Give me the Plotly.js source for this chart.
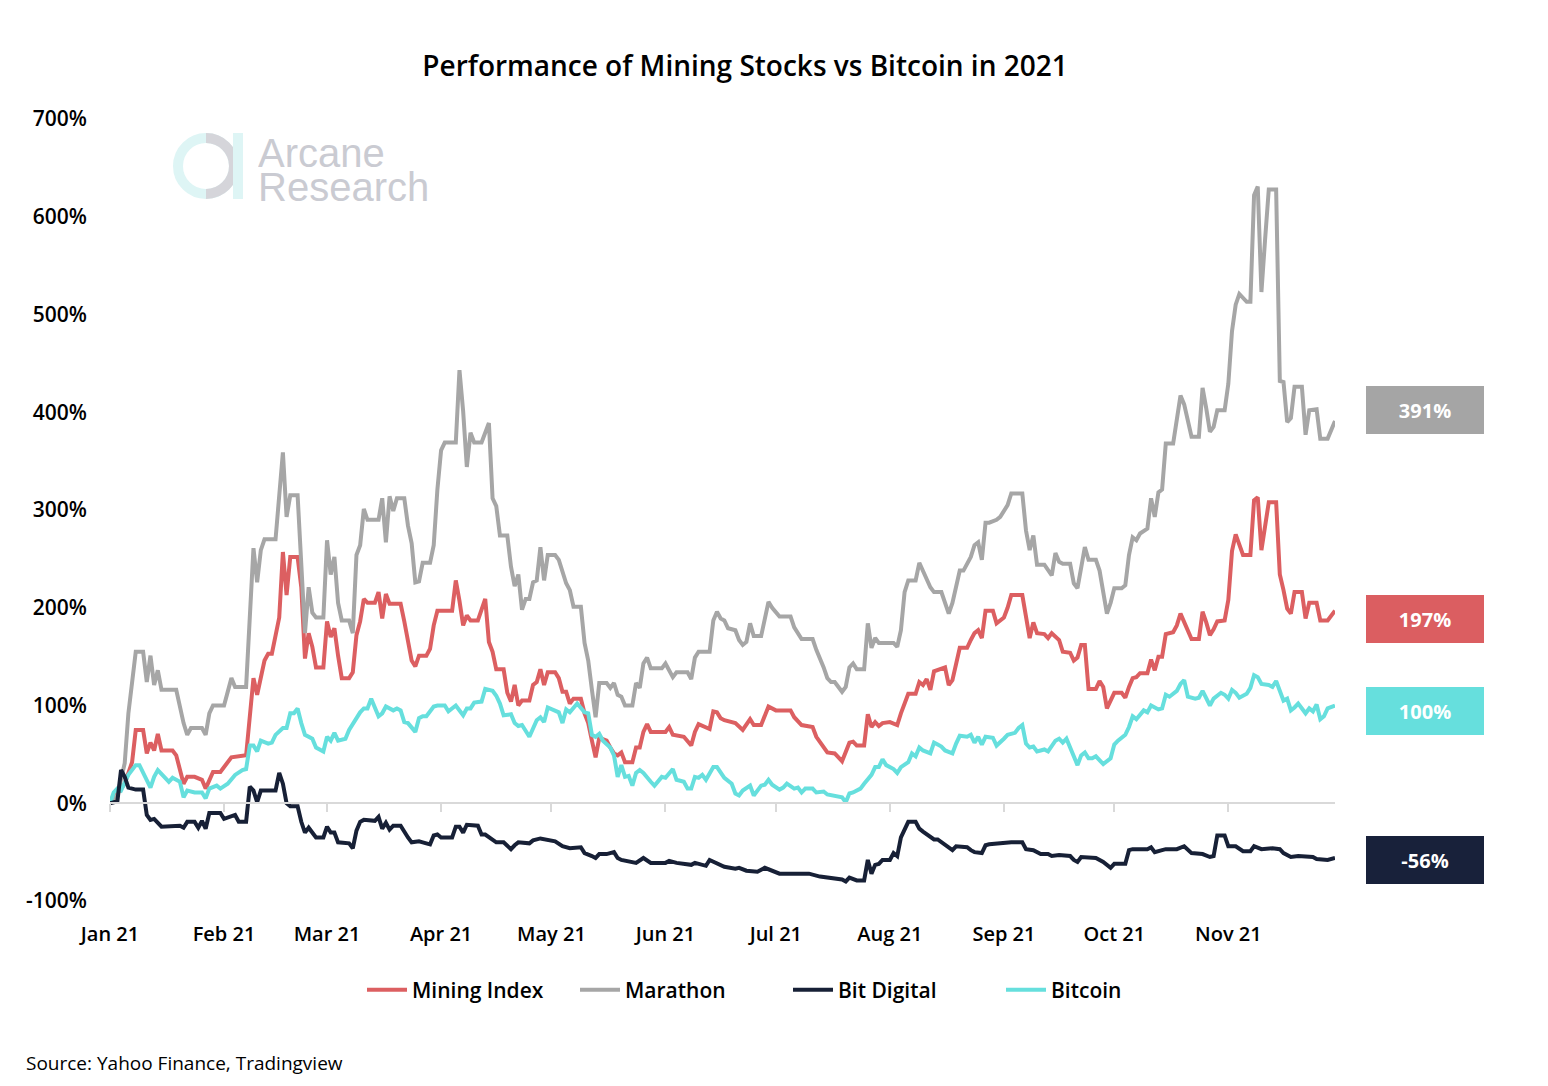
<!DOCTYPE html>
<html>
<head>
<meta charset="utf-8">
<script src="https://cdn.plot.ly/plotly-3.0.1.min.js"></script>
<style>
  html, body { margin: 0; padding: 0; background: #ffffff; }
  #chart { width: 1548px; height: 1086px; }
</style>
</head>
<body>
<div id="chart"></div>
<script>
// ---- DATA (day offsets from 2021-01-01, values in %) ----
const miningDays = [0,4,6,7,9,10,11,12,13,14,17,18,20,21,23,25,26,28,30,32,33,37,38,39,40,42,43,44,46,47,48,49,51,52,53,54,55,56,58,59,60,61,62,63,65,66,67,68,69,70,72,73,74,75,76,79,80,81,82,83,84,86,87,88,89,93,94,95,96,97,98,100,102,103,104,105,107,108,109,110,111,112,114,115,116,117,118,119,121,122,123,124,125,126,128,129,130,131,132,133,135,136,137,138,139,140,142,143,144,145,146,147,151,152,153,156,158,159,160,163,164,165,166,167,169,170,172,173,174,175,177,179,181,185,186,188,191,192,194,195,197,198,199,201,202,203,205,206,207,208,209,210,212,214,215,217,219,220,221,222,223,224,226,227,228,229,231,233,234,235,236,237,238,240,241,243,244,245,248,249,250,251,252,254,255,256,258,259,261,262,263,264,265,266,268,269,270,271,272,273,275,276,277,278,279,280,282,283,284,285,286,287,289,290,291,292,293,294,296,297,298,299,300,301,303,304,305,306,308,310,311,312,313,314,315,317,318,319,320,321,322,324,325,326,328,329,331,333];
const miningVals = [0,20,42,75,75,51,62,54,71,54,54,49,20,27,27,24,15,32,32,41,47,49,92,128,111,146,153,153,190,257,213,252,252,221,148,174,160,139,139,186,170,179,151,128,128,134,172,186,209,205,205,216,189,214,204,204,186,165,146,140,151,151,158,182,197,197,228,207,182,192,187,187,209,165,155,137,137,113,104,121,100,105,105,121,124,137,121,134,134,128,114,114,102,107,107,92,82,64,47,67,64,57,51,49,52,42,42,57,57,73,81,73,73,78,70,68,59,73,81,76,94,93,87,85,83,82,75,80,86,80,80,99,95,95,88,80,78,68,57,52,51,47,43,62,63,59,59,91,78,83,79,82,83,80,92,112,112,124,121,127,116,135,137,139,121,126,159,159,167,174,177,169,197,197,184,190,200,213,213,190,169,185,174,173,169,174,167,155,154,146,149,162,162,117,117,125,119,97,106,113,113,108,119,128,129,133,133,147,136,150,150,173,175,182,194,185,175,168,168,196,185,172,178,186,187,208,258,275,254,254,310,313,259,286,308,308,234,218,199,194,216,216,189,205,205,187,187,197];

const marathonDays = [0,2,4,5,7,9,10,11,12,13,14,18,20,21,22,25,26,27,28,31,33,34,37,39,40,41,42,45,47,48,49,51,53,54,55,56,58,59,60,61,62,63,65,66,67,68,69,70,73,74,75,76,77,78,80,81,82,83,84,85,87,88,89,90,91,94,95,96,97,98,99,101,103,104,105,106,108,109,110,111,112,113,114,115,116,117,118,119,121,122,124,125,126,128,129,130,131,132,133,135,136,137,138,139,140,142,143,144,145,146,147,150,151,153,154,157,158,159,160,163,164,165,166,167,168,170,171,172,173,174,175,177,179,180,182,185,186,188,191,192,194,195,196,197,199,200,201,202,203,205,206,207,208,209,213,214,215,216,217,219,220,221,223,224,226,228,229,231,232,234,235,236,237,238,239,241,242,244,245,248,249,250,251,252,254,256,257,258,259,261,262,263,264,265,266,268,269,270,271,272,273,275,276,277,278,279,280,282,283,284,285,286,287,289,290,291,292,293,294,296,297,298,299,300,301,303,304,305,306,307,309,310,311,312,313,314,315,317,318,319,320,321,322,324,325,326,328,329,331,333];
const marathonVals = [0,8,41,92,155,155,124,151,121,136,116,116,82,70,77,77,70,92,100,100,128,119,119,261,226,259,270,270,359,293,315,315,174,221,195,190,190,269,234,252,205,187,187,174,254,264,301,290,290,312,267,314,299,312,312,284,266,226,227,246,246,264,321,361,369,369,443,401,344,379,369,369,389,312,304,274,274,242,222,234,198,209,209,226,228,262,228,254,254,249,225,218,201,201,164,146,116,88,123,123,118,123,111,109,100,100,123,118,143,149,138,138,143,129,134,134,127,149,155,155,187,196,189,187,179,177,167,162,165,184,171,171,206,200,191,191,180,168,168,157,139,128,124,124,114,119,139,143,137,137,184,159,169,164,164,160,177,216,228,228,246,238,221,216,216,194,205,238,238,252,264,267,249,287,287,290,293,305,317,317,279,259,274,244,244,233,256,247,245,245,225,220,242,262,249,249,238,213,194,205,220,220,223,254,272,269,276,281,312,293,318,321,368,368,392,417,408,389,375,375,425,404,380,385,402,402,429,483,510,521,513,513,622,631,523,577,628,628,432,431,390,394,426,426,377,402,403,373,373,391];

const bitDigitalDays = [0,2,3,4,5,7,9,10,11,12,14,18,19,20,21,23,24,25,26,27,30,31,33,34,35,37,38,39,40,41,45,46,47,48,49,51,52,53,54,55,56,58,59,60,61,62,65,66,67,68,69,72,73,74,75,76,77,79,80,81,82,84,85,87,88,89,90,93,94,95,96,97,100,101,102,104,105,107,108,109,110,111,114,115,117,121,123,125,128,129,131,132,133,135,137,138,139,141,143,145,147,151,152,154,158,159,162,163,165,167,170,171,173,176,178,180,182,186,190,193,196,199,200,201,203,205,206,207,208,209,210,212,213,214,215,217,219,220,221,223,224,225,227,228,229,230,233,234,235,237,238,239,241,243,245,248,249,251,253,255,256,258,261,262,263,264,267,268,270,272,273,276,277,278,280,282,283,284,286,287,290,292,294,296,297,299,300,301,303,304,306,308,310,311,313,316,318,319,321,323,325,327,328,330,331,333];
const bitDigitalVals = [0,2,34,27,16,14,14,-12,-17,-16,-24,-24,-23,-25,-19,-19,-25,-18,-26,-10,-10,-16,-14,-12,-19,-19,17,13,1,13,13,31,20,0,-3,-3,-19,-30,-25,-30,-35,-35,-24,-30,-30,-40,-41,-46,-28,-19,-17,-18,-14,-26,-20,-27,-23,-23,-30,-35,-40,-39,-40,-42,-33,-32,-35,-35,-24,-24,-30,-22,-23,-32,-32,-37,-40,-40,-44,-47,-43,-40,-41,-38,-36,-39,-44,-46,-45,-51,-54,-56,-52,-52,-50,-56,-58,-60,-61,-56,-61,-61,-59,-61,-63,-61,-64,-58,-61,-65,-67,-66,-69,-70,-66,-69,-72,-72,-72,-75,-77,-78,-80,-76,-79,-79,-58,-72,-63,-62,-58,-58,-51,-54,-35,-19,-19,-26,-29,-34,-37,-37,-42,-45,-48,-44,-45,-48,-50,-51,-43,-42,-41,-41,-40,-40,-47,-48,-52,-52,-54,-53,-54,-58,-60,-55,-55,-56,-60,-66,-62,-62,-48,-47,-47,-47,-45,-50,-48,-47,-47,-44,-51,-52,-52,-55,-54,-33,-33,-44,-44,-49,-49,-44,-47,-46,-47,-51,-55,-54,-55,-55,-57,-58,-58,-56];

const bitcoinDays = [0,1,2,3,5,7,8,9,11,12,13,15,16,17,19,20,21,23,25,26,27,29,30,32,34,36,37,38,39,40,41,43,44,45,47,48,49,50,51,52,53,55,56,58,59,60,61,62,64,65,67,68,69,70,71,72,73,74,75,77,78,79,80,81,82,83,84,85,86,88,89,91,92,94,96,97,98,99,101,102,104,105,106,107,109,110,111,112,114,116,117,118,119,121,122,123,124,125,127,129,130,131,132,133,134,136,137,138,139,140,141,142,143,144,145,147,148,150,151,153,154,156,157,158,159,160,161,162,164,165,166,167,169,170,171,172,174,175,177,178,179,180,182,183,184,186,187,188,189,191,192,194,195,197,199,200,201,202,204,205,207,208,209,210,211,213,214,215,217,218,219,220,221,223,224,225,226,227,229,230,231,233,234,235,236,237,238,240,241,243,244,246,247,248,249,250,251,252,254,255,257,258,259,260,261,262,263,264,265,266,267,268,269,270,272,273,274,276,277,278,279,280,281,282,283,285,286,287,288,290,291,292,293,295,296,297,298,299,300,302,303,304,305,306,307,309,310,311,312,313,315,316,317,318,319,320,321,322,323,325,326,327,328,329,330,331,333];
const bitcoinVals = [0,11,15,13,29,39,39,31,16,27,34,26,22,26,22,6,13,11,11,5,15,18,15,20,29,34,35,59,59,53,64,61,62,70,77,77,92,92,97,82,70,66,57,53,68,64,72,64,66,75,87,93,97,97,107,99,89,92,99,95,97,95,83,82,77,73,87,89,89,99,100,100,94,100,90,97,97,103,104,117,115,110,102,90,91,82,79,80,68,85,88,83,98,95,93,82,96,93,102,93,92,70,68,71,64,57,49,27,39,27,28,18,31,34,31,22,18,27,26,35,24,22,15,15,27,26,29,24,37,37,32,26,20,10,8,13,18,8,18,19,24,19,14,16,20,15,16,11,15,15,11,12,9,7,6,1,10,11,15,20,29,37,37,45,39,35,31,37,42,51,48,57,54,51,62,60,58,54,51,61,69,68,70,62,68,60,68,67,59,66,70,72,77,80,61,57,58,53,55,53,64,66,62,66,57,46,39,49,52,46,46,48,44,40,46,60,64,70,78,89,86,90,95,93,100,96,97,111,109,115,122,126,109,107,108,115,107,100,107,113,111,107,116,113,108,112,118,131,129,122,121,119,125,116,105,107,95,98,102,92,97,94,101,86,89,97,100];

const seriesNames = ["Mining Index", "Marathon", "Bit Digital", "Bitcoin"];
const monthTicks = ["2021-01-01","2021-02-01","2021-03-01","2021-04-01","2021-05-01","2021-06-01","2021-07-01","2021-08-01","2021-09-01","2021-10-01","2021-11-01"];
const yTickVals = [-100,0,100,200,300,400,500,600,700];
const yTickText = ["-100%","0%","100%","200%","300%","400%","500%","600%","700%"];

// ---- helpers ----
function toDate(d) {
  const t = new Date(Date.UTC(2021, 0, 1 + d));
  return t.toISOString().slice(0, 10);
}
const FONT = "Open Sans, Noto Sans, sans-serif";
const colors = { mining: "#dc5f61", marathon: "#a6a6a6", bitdigital: "#172036", bitcoin: "#66dfdd" };
const LW = 4;

const traces = [
  { x: miningDays.map(toDate), y: miningVals, name: seriesNames[0], type: "scatter", mode: "lines",
    line: { color: colors.mining, width: LW } },
  { x: marathonDays.map(toDate), y: marathonVals, name: seriesNames[1], type: "scatter", mode: "lines",
    line: { color: colors.marathon, width: LW } },
  { x: bitDigitalDays.map(toDate), y: bitDigitalVals, name: seriesNames[2], type: "scatter", mode: "lines",
    xaxis: "x2", line: { color: colors.bitdigital, width: LW } },
  { x: bitcoinDays.map(toDate), y: bitcoinVals, name: seriesNames[3], type: "scatter", mode: "lines",
    line: { color: colors.bitcoin, width: LW } }
];

const last = a => a[a.length - 1];
const px2paperX = px => (px - 110) / 1225;
const px2paperY = py => (901 - py) / 782;

function endLabel(val, y, bg) {
  return { xref: "paper", yref: "y", x: px2paperX(1425), y: y, xanchor: "center", yanchor: "middle",
    text: "<b>" + Math.round(val) + "%</b>", showarrow: false, bgcolor: bg, width: 118, height: 48,
    borderpad: 0, borderwidth: 0, font: { family: FONT, size: 20, color: "#ffffff" } };
}

const layout = {
  width: 1548, height: 1086,
  paper_bgcolor: "#ffffff", plot_bgcolor: "#ffffff",
  margin: { l: 110, r: 213, t: 119, b: 185, pad: 0 },
  title: { text: "Performance of Mining Stocks vs Bitcoin in 2021", x: 0.4813, xanchor: "center",
    y: 0.939, yanchor: "middle", font: { family: FONT, size: 28, weight: 600, color: "#000000" } },
  showlegend: true,
  legend: { orientation: "h", x: px2paperX(362), xanchor: "left", y: px2paperY(990), yanchor: "middle",
    font: { family: FONT, size: 21, weight: 600, color: "#000000" }, itemwidth: 40,
    entrywidthmode: "pixels", entrywidth: 158 },
  xaxis: { type: "date", range: ["2021-01-01", "2021-11-30"], tickvals: monthTicks, tickformat: "%b %y",
    showgrid: false, zeroline: false, showline: false, ticks: "", ticklabelstandoff: 19,
    tickfont: { family: FONT, size: 20, weight: 600, color: "#000000" } },
  xaxis2: { type: "date", overlaying: "x", matches: "x", anchor: "free", position: 0.125,
    tickvals: monthTicks, showticklabels: false, showgrid: false, zeroline: false,
    showline: true, linecolor: "#d9d9d9", linewidth: 2, ticks: "outside", ticklen: 8,
    tickcolor: "#d9d9d9", tickwidth: 2 },
  yaxis: { range: [-100, 700], tickvals: yTickVals, ticktext: yTickText, showgrid: false,
    zeroline: false, showline: false, ticks: "", ticklabelstandoff: 22,
    tickfont: { family: FONT, size: 21, weight: 600, color: "#000000" } },
  annotations: [
    endLabel(last(marathonVals), 402, "#a5a5a5"),
    endLabel(last(miningVals), 188, "#db5e61"),
    endLabel(last(bitcoinVals), 94, "#66dfdd"),
    endLabel(last(bitDigitalVals), -58, "#18213a"),
    { xref: "paper", yref: "paper", x: px2paperX(24), y: px2paperY(1063), xanchor: "left", yanchor: "middle",
      text: "Source: Yahoo Finance, Tradingview", showarrow: false,
      font: { family: FONT, size: 19, color: "#000000" } },
    { xref: "paper", yref: "paper", x: px2paperX(256), y: px2paperY(153), xanchor: "left", yanchor: "middle",
      text: "Arcane", showarrow: false, height: 34,
      font: { family: "Liberation Sans, Arial, sans-serif", size: 40, color: "#cacbd2" } },
    { xref: "paper", yref: "paper", x: px2paperX(256), y: px2paperY(187), xanchor: "left", yanchor: "middle",
      text: "Research", showarrow: false, height: 34,
      font: { family: "Liberation Sans, Arial, sans-serif", size: 40, color: "#cacbd2" } }
  ],
  shapes: [
    { type: "circle", xref: "paper", yref: "paper", xsizemode: "pixel", ysizemode: "pixel",
      xanchor: px2paperX(206), yanchor: px2paperY(166), x0: -28, x1: 28, y0: -28, y1: 28,
      line: { color: "#def5f5", width: 10 }, layer: "below" },
    { type: "path", xref: "paper", yref: "paper", xsizemode: "pixel", ysizemode: "pixel",
      xanchor: px2paperX(206), yanchor: px2paperY(166),
      path: "M 0 28 C 15.5 28 28 15.5 28 0 C 28 -15.5 15.5 -28 0 -28",
      line: { color: "#d5d5da", width: 10 }, layer: "below" },
    { type: "rect", xref: "paper", yref: "paper", xsizemode: "pixel", ysizemode: "pixel",
      xanchor: px2paperX(206), yanchor: px2paperY(166), x0: 27, x1: 37, y0: -33, y1: 33,
      fillcolor: "#def5f5", line: { width: 0 }, layer: "below" }
  ]
};

Plotly.newPlot("chart", traces, layout, { displayModeBar: false, responsive: false });
</script>
</body>
</html>
